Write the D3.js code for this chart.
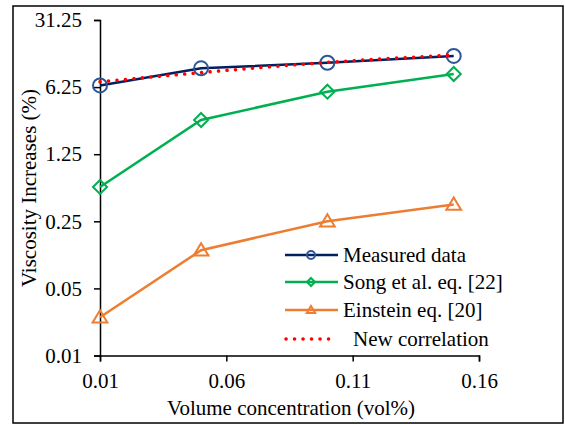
<!DOCTYPE html>
<html>
<head>
<meta charset="utf-8">
<script src="https://cdn.jsdelivr.net/npm/d3@7"></script>
<style>
  body { margin: 0; background: #fff; }
  svg, svg text { font-family: "Liberation Serif", "Times New Roman", Times, "DejaVu Serif", serif; }
</style>
</head>
<body>
<div id="chart"></div>
<script>
const conc = [0.01, 0.05, 0.10, 0.15];
const measured = [6.5, 9.8, 11.2, 13.2];
const song = [0.57, 2.84, 5.6, 8.56];
const einstein = [0.025, 0.125, 0.25, 0.375];
const newCorr = [7.1, 8.85, 11.3, 13.5];
const xTicks = [0.01, 0.06, 0.11, 0.16];
const yTicks = [0.01, 0.05, 0.25, 1.25, 6.25, 31.25];

const W = 565, H = 425;
const margin = {top: 20, right: 86, bottom: 69.5, left: 100};
const fs = 21;

const svg = d3.select('#chart').append('svg')
  .attr('width', W).attr('height', H);

// outer frame
svg.append('rect')
  .attr('x', 13).attr('y', 6).attr('width', 550).attr('height', 417)
  .attr('fill', 'none').attr('stroke', '#000').attr('stroke-width', 1.5);

const x = d3.scaleLinear()
  .domain([0.01, 0.16])
  .range([margin.left, W - margin.right]);

const y = d3.scaleLog().base(5)
  .domain([0.01, 31.25])
  .range([H - margin.bottom, margin.top]);

const fmt = d => String(d);

svg.append('g')
  .attr('transform', `translate(0,${H - margin.bottom})`)
  .call(d3.axisBottom(x).tickValues(xTicks).tickFormat(fmt).tickSizeOuter(0).tickSize(6).tickPadding(12))
  .call(g => g.attr('font-family', null).attr('font-size', null))
  .call(g => g.selectAll('text').attr('font-size', fs).attr('fill', '#000'))
  .call(g => g.selectAll('line, path').attr('stroke', '#000').attr('stroke-width', 1.5));

svg.append('g')
  .attr('transform', `translate(${margin.left},0)`)
  .call(d3.axisLeft(y).tickValues(yTicks).tickFormat(fmt).tickSizeOuter(0).tickSize(6).tickPadding(12))
  .call(g => g.attr('font-family', null).attr('font-size', null))
  .call(g => g.selectAll('text').attr('font-size', fs).attr('fill', '#000'))
  .call(g => g.selectAll('line, path').attr('stroke', '#000').attr('stroke-width', 1.5));

svg.append('text')
  .attr('x', 291)
  .attr('y', 415)
  .attr('text-anchor', 'middle')
  .attr('font-size', fs)
  .text('Volume concentration (vol%)');

svg.append('text')
  .attr('transform', `translate(36,188) rotate(-90)`)
  .attr('text-anchor', 'middle')
  .attr('font-size', fs)
  .text('Viscosity Increases (%)');

const series = [
  {name: 'Measured data', vals: measured, line: '#002060', mark: '#2F5597', shape: 'circle'},
  {name: 'Song et al. eq. [22]', vals: song, line: '#00B050', mark: '#00B050', shape: 'diamond'},
  {name: 'Einstein eq. [20]', vals: einstein, line: '#ED7D31', mark: '#ED7D31', shape: 'triangle'}
];

const line = d3.line().x(d => x(d[0])).y(d => y(d[1]));

function marker(g, shape, color, s) {
  if (shape === 'circle') {
    g.append('circle').attr('r', s).attr('fill', 'none')
      .attr('stroke', color).attr('stroke-width', 2);
  } else if (shape === 'diamond') {
    g.append('path').attr('d', `M0,${-s}L${s},0L0,${s}L${-s},0Z`)
      .attr('fill', 'none').attr('stroke', color).attr('stroke-width', 2);
  } else {
    g.append('path').attr('d', `M0,${-s}L${s * 1.05},${s * 0.75}L${-s * 1.05},${s * 0.75}Z`)
      .attr('fill', 'none').attr('stroke', color).attr('stroke-width', 2);
  }
}

series.forEach(s => {
  const pts = conc.map((c, i) => [c, s.vals[i]]);
  svg.append('path').datum(pts)
    .attr('d', line).attr('fill', 'none')
    .attr('stroke', s.line).attr('stroke-width', 2.5);
  pts.forEach(p => {
    const g = svg.append('g').attr('transform', `translate(${x(p[0])},${y(p[1])})`);
    marker(g, s.shape, s.mark, 7);
  });
});

// new correlation, red dotted
svg.append('path').datum(conc.map((c, i) => [c, newCorr[i]]))
  .attr('d', line.curve(d3.curveMonotoneX)).attr('fill', 'none')
  .attr('stroke', '#FF0000').attr('stroke-width', 3.5)
  .attr('stroke-linecap', 'round').attr('stroke-dasharray', '0.1,8.4');

// legend
const legend = [
  {name: 'Measured data', line: '#002060', mark: '#2F5597', shape: 'circle', ty: 255, tx: 343},
  {name: 'Song et al. eq. [22]', line: '#00B050', mark: '#00B050', shape: 'diamond', ty: 282, tx: 343},
  {name: 'Einstein eq. [20]', line: '#ED7D31', mark: '#ED7D31', shape: 'triangle', ty: 310, tx: 343},
  {name: 'New correlation', line: '#FF0000', shape: 'dots', ty: 339, tx: 353}
];
legend.forEach(l => {
  if (l.shape === 'dots') {
    svg.append('line').attr('x1', 286).attr('x2', 330).attr('y1', l.ty).attr('y2', l.ty)
      .attr('stroke', l.line).attr('stroke-width', 3.5)
      .attr('stroke-linecap', 'round').attr('stroke-dasharray', '0.1,8.4');
  } else {
    svg.append('line').attr('x1', 285).attr('x2', 338).attr('y1', l.ty).attr('y2', l.ty)
      .attr('stroke', l.line).attr('stroke-width', 2.5);
    const g = svg.append('g').attr('transform', `translate(311,${l.ty})`);
    marker(g, l.shape, l.mark, 4);
  }
  svg.append('text').attr('x', l.tx).attr('y', l.ty).attr('dy', '0.35em')
    .attr('font-size', fs).text(l.name);
});
</script>
</body>
</html>
